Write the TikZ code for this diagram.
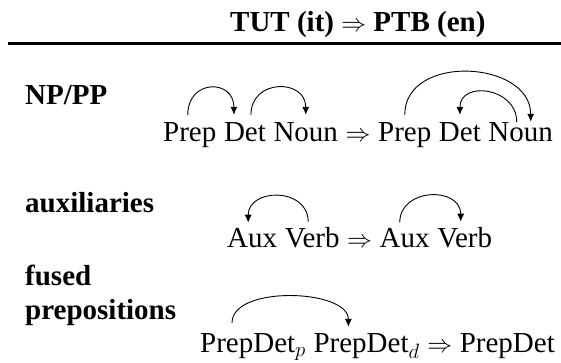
\documentclass[tikz,border=0pt]{standalone}
\usepackage{fontspec}
\setmainfont{Liberation Serif}
\usetikzlibrary{positioning, arrows.meta}
\tikzstyle{word} = [inner sep=0pt, anchor=base west]
\tikzstyle{rowname} = [word, font=\fontsize{29}{34}\selectfont\bfseries]
\tikzstyle{dep} = [->, line width=0.9pt]

\begin{document}
\begin{tikzpicture}[x=1pt, y=1pt, node distance=7.25pt, >={Latex[length=8pt,width=7pt]},
	every node/.style={font=\fontsize{29}{34}\selectfont}]
	\useasboundingbox (0,0) rectangle (561,363);
	% We start by placing the header and the rule below it
	\node [rowname] (head) at (230,331) {TUT (it) $\Rightarrow$ PTB (en)};
	\coordinate (ruleL) at (8,319.5);
	\coordinate (ruleR) at (561,319.5);
	\draw [line width=3pt] (ruleL) -- (ruleR);
	
	% Row names on the left
	\node [rowname] (np) at (25,258) {NP/PP};
	\node [rowname] (aux) at (25,150) {auxiliaries};
	\node [rowname] (fused) at (25,77) {fused};
	\node [rowname] (prepos) at ([yshift=-34pt]fused.base west) {prepositions};
	
	% NP/PP: the words are placed one after the other
	\node [word] (prepA) at (163,221) {Prep};
	\node [word, base right=of prepA] (detA) {Det};
	\node [word, base right=of detA] (nounA) {Noun};
	\node [word, base right=of nounA] (impA) {$\Rightarrow$};
	\node [word, base right=of impA] (prepB) {Prep};
	\node [word, base right=of prepB] (detB) {Det};
	\node [word, base right=of detB] (nounB) {Noun};
	
	% auxiliaries
	\node [word] (auxA) at (227,115) {Aux};
	\node [word, base right=of auxA] (verbA) {Verb};
	\node [word, base right=of verbA] (impB) {$\Rightarrow$};
	\node [word, base right=of impB] (auxB) {Aux};
	\node [word, base right=of auxB] (verbB) {Verb};
	
	% fused prepositions
	\node [word] (pdp) at (200,10) {PrepDet$_p$};
	\node [word, base right=of pdp] (pdd) {PrepDet$_d$};
	\node [word, base right=of pdd] (impC) {$\Rightarrow$};
	\node [word, base right=of impC] (pd) {PrepDet};
	
	% Once the words are placed, the arcs go over them
	\draw [dep] ([xshift=-2pt, yshift=8pt]prepA.north) to[out=90, in=90, looseness=2] ([xshift=-11pt, yshift=8pt]detA.north);
	\draw [dep] ([xshift=6pt, yshift=8pt]detA.north) to[out=90, in=90, looseness=1.7] ([yshift=8pt]nounA.north);
	\draw [dep] ([yshift=8pt]prepB.north) to[out=90, in=90, looseness=1.25] ([xshift=10pt, yshift=1pt]nounB.north);
	\draw [dep] ([xshift=-4pt, yshift=1pt]nounB.north) to[out=90, in=90, looseness=1.55] ([yshift=8pt]detB.north);
	\draw [dep] ([xshift=-4pt, yshift=6pt]verbA.north) to[out=90, in=90, looseness=1.48] ([xshift=-4pt, yshift=6pt]auxA.north);
	\draw [dep] ([xshift=-5pt, yshift=6pt]auxB.north) to[out=90, in=90, looseness=1.48] ([xshift=-4pt, yshift=6pt]verbB.north);
	\draw [dep] ([xshift=32pt, yshift=11pt]pdp.north west) to[out=90, in=90, looseness=0.83] ([xshift=35pt, yshift=7pt]pdd.north west);
\end{tikzpicture}
\end{document}
